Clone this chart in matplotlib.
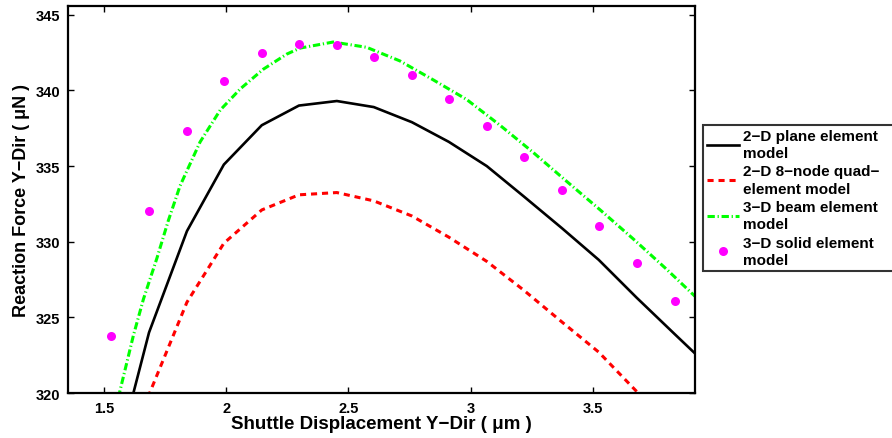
import matplotlib.pyplot as plt

plt.rcParams["font.family"] = ["Liberation Sans", "DejaVu Sans"]
plt.rcParams["font.weight"] = "bold"

# displacement (um) at which results were sampled
disp = [1.530, 1.685, 1.840, 1.991, 2.146, 2.298, 2.453, 2.604, 2.760,
        2.911, 3.066, 3.217, 3.373, 3.524, 3.679, 3.834, 3.990]

# reaction force (uN)
plane_2d = [314.3, 324.0, 330.7, 335.1, 337.7, 339.0, 339.3, 338.9, 337.9,
            336.6, 335.0, 333.0, 330.9, 328.8, 326.3, 323.9, 321.5]
quad_2d = [312.5, 319.9, 326.0, 329.9, 332.1, 333.1, 333.25, 332.7, 331.7,
           330.3, 328.7, 326.8, 324.7, 322.7, 320.1, 317.3, 314.5]
solid_3d = [323.75, 332.0, 337.35, 340.65, 342.45, 343.1, 343.0, 342.2, 341.0,
            339.45, 337.65, 335.6, 333.4, 331.05, 328.6, 326.05]

# beam model is sampled finer
beam_disp = [1.530, 1.564, 1.621, 1.662, 1.717, 1.764, 1.812, 1.894, 1.976,
             2.058, 2.152, 2.248, 2.303, 2.438, 2.575, 2.711, 2.847, 2.984,
             3.120, 3.256, 3.392, 3.530, 3.664, 3.800, 3.917]
beam_3d = [317.9, 320.0, 323.8, 326.2, 328.9, 331.4, 333.7, 336.6, 338.7,
           340.1, 341.4, 342.4, 342.8, 343.2, 342.85, 341.95, 340.7, 339.4,
           337.7, 335.9, 334.0, 332.1, 330.2, 328.2, 326.4]

labels = ["2\u2212D plane element\nmodel",
          "2\u2212D 8\u2212node quad\u2212\nelement model",
          "3\u2212D beam element\nmodel",
          "3\u2212D solid element\nmodel"]

fig = plt.figure(figsize=(8.92, 4.39), dpi=100)
ax = fig.add_axes([0.0766, 0.1025, 0.7024, 0.8822])

ax.plot(disp, plane_2d, color="black", lw=1.9, label=labels[0])
ax.plot(disp, quad_2d, color="#ff0000", lw=2.2, dashes=[2.0, 1.6], label=labels[1])
ax.plot(beam_disp, beam_3d, color="#00ff00", lw=2.2, dashes=[2.4, 0.9, 0.4, 0.9],
        label=labels[2])
ax.plot(disp[:len(solid_3d)], solid_3d, "o", color="#ff00ff", ms=6.5, mec="none",
        label=labels[3])

ax.set_xlim(1.355, 3.917)
ax.set_ylim(320, 345.6)
ax.set_xticks([1.5, 2, 2.5, 3, 3.5])
ax.set_xticklabels(["1.5", "2", "2.5", "3", "3.5"])
ax.set_yticks([320, 325, 330, 335, 340, 345])

ax.tick_params(direction="in", top=True, right=True, length=4, width=1,
               labelsize=10.5, pad=6)
for lab in ax.get_xticklabels() + ax.get_yticklabels():
    lab.set_fontweight("bold")
for sp in ax.spines.values():
    sp.set_linewidth(1.6)

ax.set_xlabel("Shuttle Displacement Y\u2212Dir ( \u03bcm )", fontsize=13.5,
              fontweight="bold", labelpad=0)
ax.set_ylabel("Reaction Force Y\u2212Dir ( \u03bcN )", fontsize=13,
              fontweight="bold", labelpad=4)

# legend box runs off the right edge, as in the original
leg = fig.legend(loc="upper left", bbox_to_anchor=(0.788, 0.3, 0.225, 0.413),
                 mode="expand", fontsize=11, frameon=True, fancybox=False,
                 handlelength=2.1, handletextpad=0.25, borderpad=0.25,
                 labelspacing=0.28, borderaxespad=0)
leg.get_frame().set_edgecolor("black")
leg.get_frame().set_linewidth(1.5)
for t in leg.get_texts():
    t.set_fontweight("bold")
    t.set_linespacing(1.3)

fig.savefig("out.png", dpi=100)
